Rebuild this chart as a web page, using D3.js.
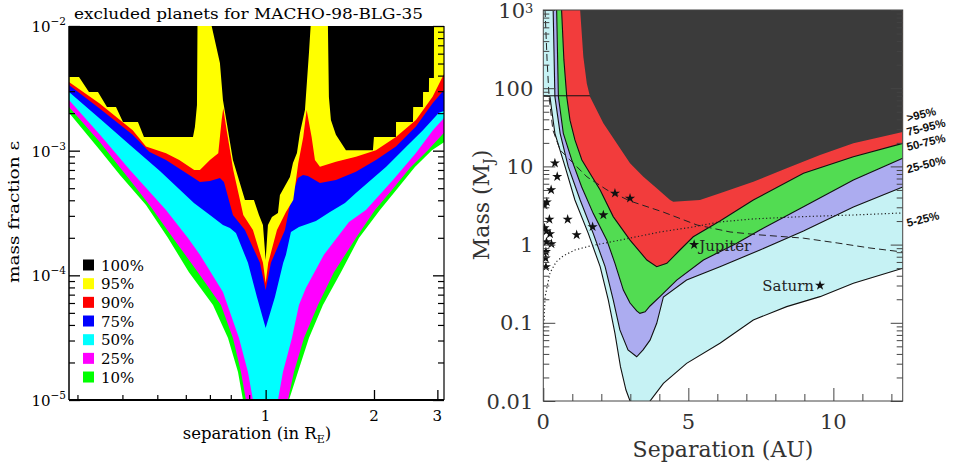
<!DOCTYPE html>
<html>
<head>
<meta charset="utf-8">
<script src="https://cdn.jsdelivr.net/npm/d3@7"></script>
<style>
  body { margin: 0; background: #fff; }
  svg { display: block; }
</style>
</head>
<body>
<svg id="fig" width="953" height="466"></svg>
<script>
// ===================== Left panel: excluded planets for MACHO-98-BLG-35 =====================
// Each list gives, for a separation u (in Einstein radii), the lowest mass fraction
// at which planets are excluded at the stated confidence.
const excl100 = [[0.2842,3.90e-3],[0.3030,3.90e-3],[0.3229,2.96e-3],[0.3421,2.96e-3],[0.3624,2.24e-3],[0.3839,2.24e-3],[0.4014,1.70e-3],[0.4418,1.70e-3],[0.4591,1.29e-3],[0.6282,1.29e-3],[0.6360,1.55e-3],[0.6445,2.32e-3],[0.6465,9.3e-3],[0.647,1.5e-2],[0.7047,1.5e-2],[0.7079,1.0e-2],[0.7464,5.05e-3],[0.7610,2.55e-3],[0.8112,8.42e-4],[0.8760,4.02e-4],[0.9279,4.02e-4],[0.9581,3.05e-4],[0.9829,2.53e-4],[1.0,1.33e-4],[1.0148,2.53e-4],[1.0411,2.94e-4],[1.0819,3.16e-4],[1.0957,4.41e-4],[1.1682,6.15e-4],[1.1908,7.96e-4],[1.2217,9.58e-4],[1.2454,1.39e-3],[1.2859,2.12e-3],[1.3192,6.07e-3],[1.3335,1.0e-2],[1.3345,1.5e-2],[1.4846,1.5e-2],[1.4894,1.0e-2],[1.4989,2.69e-3],[1.5182,1.76e-3],[1.5676,1.34e-3],[1.6714,1.01e-3],[1.9866,1.01e-3],[1.9993,1.29e-3],[2.3016,1.29e-3],[2.303,1.70e-3],[2.5663,1.70e-3],[2.570,2.24e-3],[2.7347,2.24e-3],[2.738,2.96e-3],[2.8418,2.96e-3],[2.845,3.83e-3],[2.9343,3.83e-3],[2.937,1.5e-2],[3.13,1.5e-2]];
const excl95 = [[0.2842,3.56e-3],[0.3450,2.40e-3],[0.4272,1.46e-3],[0.4651,1.08e-3],[0.5287,9.53e-4],[0.5754,8.42e-4],[0.6333,7.00e-4],[0.6567,7.00e-4],[0.7001,8.42e-4],[0.7385,9.53e-4],[0.7547,1.76e-3],[0.7625,2.19e-3],[0.7793,1.46e-3],[0.8128,7.00e-4],[0.8484,4.02e-4],[0.8666,3.05e-4],[0.9220,2.31e-4],[0.9829,1.26e-4],[1.0,8.68e-5],[1.0168,1.26e-4],[1.0750,2.31e-4],[1.1387,3.22e-4],[1.1930,4.02e-4],[1.2320,7.92e-4],[1.2720,1.29e-3],[1.2998,2.12e-3],[1.3419,1.29e-3],[1.3708,8.42e-4],[1.4153,7.43e-4],[1.5676,8.15e-4],[1.7817,8.94e-4],[2.0254,1.01e-3],[2.3016,1.29e-3],[2.6156,1.76e-3],[2.9099,2.71e-3],[3.1024,3.92e-3],[3.13,4.12e-3]];
const excl90 = [[0.2842,3.36e-3],[0.3450,2.19e-3],[0.4272,1.34e-3],[0.4749,9.81e-4],[0.5287,8.42e-4],[0.6333,6.00e-4],[0.6567,5.61e-4],[0.7001,5.71e-4],[0.7464,6.03e-4],[0.7660,5.61e-4],[0.8112,3.05e-4],[0.8760,2.31e-4],[0.9642,1.26e-4],[1.0,7.63e-5],[1.0344,1.26e-4],[1.1314,2.31e-4],[1.1607,3.34e-4],[1.1832,4.41e-4],[1.2296,6.03e-4],[1.2695,6.38e-4],[1.3108,6.26e-4],[1.4153,5.50e-4],[1.5676,5.82e-4],[1.7817,6.78e-4],[2.0254,8.42e-4],[2.3016,1.08e-3],[2.6156,1.56e-3],[2.9099,2.40e-3],[3.13,3.07e-3]];
const excl75 = [[0.2842,2.96e-3],[0.3465,1.80e-3],[0.4197,1.11e-3],[0.5084,6.87e-4],[0.6320,3.80e-4],[0.7001,3.05e-4],[0.7610,2.53e-4],[0.7957,2.40e-4],[0.8269,2.19e-4],[0.8378,1.99e-4],[0.8929,1.26e-4],[0.9458,6.70e-5],[1.0,3.78e-5],[1.0612,6.70e-5],[1.1190,1.26e-4],[1.1387,1.46e-4],[1.1757,2.23e-4],[1.2375,2.44e-4],[1.3795,2.73e-4],[1.5089,3.22e-4],[1.6610,3.80e-4],[1.7817,4.58e-4],[2.1589,7.40e-4],[2.4536,1.07e-3],[2.7347,1.46e-3],[3.0294,2.01e-3],[3.13,2.08e-3]];
const excl50 = [[0.2842,2.55e-3],[0.3465,1.34e-3],[0.4197,7.00e-4],[0.5287,3.34e-4],[0.6083,1.99e-4],[0.6567,1.46e-4],[0.7610,7.35e-5],[0.8431,3.14e-5],[0.8929,1.68e-5],[0.9220,1.0e-5],[0.9519,5.75e-6],[1.0681,5.75e-6],[1.0819,1.0e-5],[1.1170,1.68e-5],[1.1832,3.14e-5],[1.2375,5.78e-5],[1.2936,7.91e-5],[1.4517,1.46e-4],[1.7040,2.68e-4],[1.8994,3.34e-4],[2.2578,5.82e-4],[2.6156,9.58e-4],[2.9154,1.46e-3],[3.13,1.83e-3]];
const excl25 = [[0.2842,2.24e-3],[0.3465,1.17e-3],[0.4197,5.82e-4],[0.4801,3.53e-4],[0.5528,1.99e-4],[0.6483,1.06e-4],[0.7512,5.78e-5],[0.8112,3.14e-5],[0.8540,1.68e-5],[0.8816,1.0e-5],[0.9045,5.75e-6],[1.1241,5.75e-6],[1.1533,1.0e-5],[1.1985,1.68e-5],[1.2778,3.14e-5],[1.3975,5.78e-5],[1.5477,1.06e-4],[1.7817,1.99e-4],[2.0124,3.34e-4],[2.2432,4.83e-4],[2.5170,7.26e-4],[2.8236,1.01e-3],[3.13,1.39e-3]];
const excl10 = [[0.2842,2.01e-3],[0.3465,1.01e-3],[0.3937,6.38e-4],[0.4651,3.66e-4],[0.5355,1.99e-4],[0.6122,1.06e-4],[0.7140,5.78e-5],[0.7859,3.14e-5],[0.8378,1.68e-5],[0.8650,1.0e-5],[0.8872,5.75e-6],[1.1460,5.75e-6],[1.1607,1.0e-5],[1.2296,1.68e-5],[1.3192,3.14e-5],[1.4427,5.78e-5],[1.6189,1.06e-4],[1.8164,1.99e-4],[2.0777,3.34e-4],[2.3307,5.02e-4],[2.5988,7.40e-4],[2.8970,1.01e-3],[3.13,1.17e-3]];

const levelLabels = ["100%", "95%", "90%", "75%", "50%", "25%", "10%"];
const sepTickLabels = [1, 2, 3];
const epsTickExponents = [-2, -3, -4, -5];

// ===================== Right panel: mass vs separation =====================
// Lower edge (separation in AU, mass in Jupiter masses) of each exclusion zone.
const zone95 = [[1.27,1000],[1.38,253],[1.50,115],[1.61,78],[2.07,35.6],[2.53,19.7],[2.99,11.0],[3.45,7.4],[3.91,5.24],[4.37,3.72],[4.48,3.54],[5.40,3.72],[6.09,4.52],[7.24,6.37],[8.39,9.46],[9.54,14.0],[10.69,19.7],[12.39,27.5]];
const zone75 = [[0.63,1000],[0.71,230],[0.81,77],[0.92,39],[1.09,21.8],[1.33,12.1],[1.67,7.5],[1.96,5.0],[2.41,2.28],[2.99,1.14],[3.57,0.635],[3.91,0.522],[4.26,0.576],[4.71,0.853],[5.17,1.26],[6.09,2.00],[7.24,3.72],[8.97,8.16],[10.69,13.3],[12.39,19.7]];
const zone50 = [[0.46,1000],[0.52,78],[0.69,26.5],[0.98,12.1],[1.32,5.5],[1.72,2.51],[2.19,1.14],[2.47,0.576],[2.76,0.262],[2.99,0.179],[3.22,0.142],[3.33,0.132],[3.51,0.138],[3.68,0.164],[4.02,0.216],[4.60,0.352],[5.52,0.635],[6.67,1.04],[7.47,1.54],[8.97,3.05],[10.69,6.70],[12.39,12.7]];
const zone25 = [[0.34,1000],[0.40,78],[0.58,26.5],[0.86,9.92],[1.27,3.72],[1.72,1.39],[2.13,0.522],[2.41,0.196],[2.64,0.081],[2.92,0.045],[3.22,0.0368],[3.44,0.045],[3.68,0.060],[3.91,0.0986],[4.14,0.214],[4.94,0.352],[6.09,0.522],[7.47,0.853],[8.97,1.49],[10.69,3.03],[12.39,5.45]];
const zone5 = [[0,80],[0.23,78],[0.29,52.6],[0.40,26.5],[0.75,9.92],[1.09,3.72],[1.55,1.39],[1.96,0.522],[2.24,0.196],[2.47,0.0734],[2.66,0.0275],[2.85,0.0138],[2.99,0.01],[3.06,0.0066],[3.61,0.0066],[3.68,0.01],[4.14,0.0168],[4.94,0.0303],[6.09,0.0547],[7.24,0.1086],[8.39,0.161],[9.54,0.216],[10.69,0.320],[12.39,0.497]];
const zoneLabels = [">95%", "75-95%", "50-75%", "25-50%", "5-25%"];

const limitDashed = [[0.06,1000],[0.13,230],[0.20,77],[0.33,29.2],[0.58,16.2],[0.82,13.2],[1.51,7.32],[2.20,4.99],[2.99,3.61],[4.13,2.61],[5.30,1.78],[6.44,1.45],[7.47,1.33],[8.96,1.21],[10.13,1.05],[11.26,0.905],[12.39,0.804]];
const limitDotted = [[0.007,0.07],[0.06,0.214],[0.23,0.434],[0.44,0.599],[0.68,0.715],[1.09,0.853],[1.61,0.96],[2.64,1.14],[4.02,1.45],[5.16,1.68],[6.09,1.95],[7.23,2.13],[8.96,2.28],[10.68,2.39],[12.39,2.54]];
const stellarMassLimit = 80;   // M_J

const knownPlanets = [[0.40,11.0],[0.48,7.4],[0.27,5.0],[0.12,3.5],[0.04,3.2],[0.21,2.1],[0.84,2.1],[1.15,1.33],[1.70,1.69],[2.07,2.39],[2.47,4.53],[2.99,3.91],[0.11,1.49],[0.23,1.37],[0.11,1.08],[0.28,1.02],[0.09,0.81],[0.08,0.67],[0.09,0.52],[0.04,1.63]];
const solarPlanetNames = ["Jupiter", "Saturn"];
const solarPlanetSep = [5.20, 9.54];
const solarPlanetMass = [1.0, 0.30];

const massTicks = [0.01, 0.1, 1, 10, 100, 1000];
const massTickLabels = ["0.01", "0.1", "1", "10", "100", "10"];
const sepAUTicks = [0, 5, 10];

// ------------------------------------------------------------------
const svg = d3.select("#fig");
const defs = svg.append("defs");

function minorLogTicks(lo, hi) {
  const out = [];
  for (let k = Math.floor(Math.log10(lo)); k <= Math.ceil(Math.log10(hi)); k++) {
    for (let m = 1; m < 10; m++) {
      const v = m * Math.pow(10, k);
      if (v >= lo * 0.999 && v <= hi * 1.001) out.push(v);
    }
  }
  return out;
}

function tickAxis(g, axisFn, scale, values, len, color, width) {
  g.call(axisFn(scale).tickValues(values).tickSizeInner(-len).tickSizeOuter(0).tickFormat(""));
  g.select(".domain").remove();
  g.selectAll(".tick line").attr("stroke", color).attr("stroke-width", width);
}

// ===================== Left panel drawing =====================
const L = { left: 69, right: 444, top: 26, bottom: 400 };
const xL = d3.scaleLog().domain([0.2842, 3.13]).range([L.left, L.right]);
const yL = d3.scaleLog().domain([1e-5, 1e-2]).range([L.bottom, L.top]);

defs.append("clipPath").attr("id", "clipL").append("rect")
  .attr("x", L.left).attr("y", L.top).attr("width", L.right - L.left).attr("height", L.bottom - L.top);

const areaL = d3.area().x(d => xL(d[0])).y0(yL(1e-2)).y1(d => yL(d[1]));
const levelSeries = [excl10, excl25, excl50, excl75, excl90, excl95, excl100];
const levelColors = ["#00ff00", "#ff00ff", "#00ffff", "#0000ff", "#ff0000", "#ffff00", "#000000"];
const gL = svg.append("g").attr("clip-path", "url(#clipL)");
levelSeries.forEach((s, i) => {
  gL.append("path").attr("d", areaL(s)).attr("fill", levelColors[i]);
});

// frame and ticks
const axisColL = "#000";
svg.append("line").attr("x1", L.left).attr("x2", L.left).attr("y1", L.top).attr("y2", L.bottom).attr("stroke", axisColL).attr("stroke-width", 1.5);
svg.append("line").attr("x1", L.right).attr("x2", L.right).attr("y1", L.top).attr("y2", L.bottom).attr("stroke", axisColL).attr("stroke-width", 1.2);
svg.append("line").attr("x1", L.left).attr("x2", L.right).attr("y1", L.bottom).attr("y2", L.bottom).attr("stroke", axisColL).attr("stroke-width", 2);

const epsMajor = [1e-5, 1e-4, 1e-3, 1e-2];
const epsMinor = minorLogTicks(1e-5, 1e-2).filter(v => !epsMajor.some(m => Math.abs(m - v) / m < 1e-6));
const sepMinor = minorLogTicks(0.2842, 3.13).filter(v => ![1, 2, 3].some(m => Math.abs(m - v) < 1e-9) && v > 0.29);

tickAxis(svg.append("g").attr("transform", `translate(${L.left},0)`), d3.axisLeft, yL, epsMajor, 11, axisColL, 1.3);
tickAxis(svg.append("g").attr("transform", `translate(${L.left},0)`), d3.axisLeft, yL, epsMinor, 6, axisColL, 1.2);
tickAxis(svg.append("g").attr("transform", `translate(${L.right},0)`), d3.axisRight, yL, epsMajor, 11, axisColL, 1.3);
tickAxis(svg.append("g").attr("transform", `translate(${L.right},0)`), d3.axisRight, yL, epsMinor, 6, axisColL, 1.2);
tickAxis(svg.append("g").attr("transform", `translate(0,${L.bottom})`), d3.axisBottom, xL, sepTickLabels, 10, axisColL, 1.3);
tickAxis(svg.append("g").attr("transform", `translate(0,${L.bottom})`), d3.axisBottom, xL, sepMinor, 5, axisColL, 1.2);

const fontL = "DejaVu Serif, serif";
// y tick labels 10^-n
epsTickExponents.forEach(e => {
  const t = svg.append("text").attr("x", L.left - 3).attr("y", yL(Math.pow(10, e)) + 6)
    .attr("text-anchor", "end").attr("font-family", fontL).attr("font-size", 15).attr("fill", "#000");
  t.append("tspan").text("10");
  t.append("tspan").attr("dy", -7).attr("font-size", 10.5).text("\u2212" + Math.abs(e));
});
// x tick labels
sepTickLabels.forEach(v => {
  svg.append("text").attr("x", xL(v)).attr("y", 421).attr("text-anchor", "middle")
    .attr("font-family", fontL).attr("font-size", 15).text(v);
});
// axis titles
const xt = svg.append("text").attr("x", 257).attr("y", 439).attr("text-anchor", "middle")
  .attr("font-family", fontL).attr("font-size", 16.5);
xt.append("tspan").text("separation (in R");
xt.append("tspan").attr("dy", 4).attr("font-size", 11).text("E");
xt.append("tspan").attr("dy", -4).text(")");

svg.append("text").attr("transform", "translate(19,212) rotate(-90)").attr("text-anchor", "middle")
  .attr("font-family", fontL).attr("font-size", 15.5).attr("textLength", 142).attr("lengthAdjust", "spacingAndGlyphs")
  .text("mass fraction \u03b5");

svg.append("text").attr("x", 248.5).attr("y", 19).attr("text-anchor", "middle")
  .attr("font-family", fontL).attr("font-size", 14.5).attr("textLength", 349).attr("lengthAdjust", "spacingAndGlyphs")
  .text("excluded planets for MACHO-98-BLG-35");

// legend
const legendColors = ["#000000", "#ffff00", "#ff0000", "#0000ff", "#00ffff", "#ff00ff", "#00ff00"];
levelLabels.forEach((lab, i) => {
  const cy = 265 + i * 18.67;
  svg.append("rect").attr("x", 83).attr("y", cy - 5.5).attr("width", 11).attr("height", 11).attr("fill", legendColors[i]);
  svg.append("text").attr("x", 101).attr("y", cy + 5.5).attr("font-family", fontL).attr("font-size", 15).text(lab);
});

// ===================== Right panel drawing =====================
const R = { left: 543.3, right: 902.7, top: 10, bottom: 401 };
const xR = d3.scaleLinear().domain([0, 12.39]).range([R.left, R.right]);
const yR = d3.scaleLog().domain([0.01, 1000]).range([R.bottom, R.top]);

defs.append("clipPath").attr("id", "clipR").append("rect")
  .attr("x", R.left).attr("y", R.top).attr("width", R.right - R.left).attr("height", R.bottom - R.top);
const gR = svg.append("g").attr("clip-path", "url(#clipR)");

const areaR = d3.area().x(d => xR(d[0])).y0(yR(1000)).y1(d => yR(d[1]));
const lineR = d3.line().x(d => xR(d[0])).y(d => yR(d[1]));

gR.append("path").attr("d", areaR(zone5)).attr("fill", "#c6f2f4");
gR.append("path").attr("d", areaR(zone25)).attr("fill", "#acacf0");
gR.append("path").attr("d", areaR(zone50)).attr("fill", "#52dc52");
gR.append("path").attr("d", areaR(zone75)).attr("fill", "#f23c3c");
gR.append("line").attr("x1", xR(0)).attr("x2", xR(12.39))
  .attr("y1", yR(stellarMassLimit)).attr("y2", yR(stellarMassLimit)).attr("stroke", "#111").attr("stroke-width", 1);
gR.append("path").attr("d", areaR(zone95)).attr("fill", "#3b3b3b");

[zone5, zone25, zone50, zone75].forEach(z => {
  gR.append("path").attr("d", lineR(z)).attr("fill", "none").attr("stroke", "#111").attr("stroke-width", 1.1);
});
gR.append("path").attr("d", lineR(limitDashed)).attr("fill", "none").attr("stroke", "#222")
  .attr("stroke-width", 1).attr("stroke-dasharray", "7,4");
gR.append("path").attr("d", lineR(limitDotted)).attr("fill", "none").attr("stroke", "#222")
  .attr("stroke-width", 1.2).attr("stroke-dasharray", "1.2,2.4");

const star = d3.symbol(d3.symbolStar, 32);
gR.selectAll(".kp").data(knownPlanets).enter().append("path")
  .attr("transform", d => `translate(${xR(d[0])},${yR(d[1])})`).attr("d", star()).attr("fill", "#111");
solarPlanetNames.forEach((name, i) => {
  const px = xR(solarPlanetSep[i]), py = yR(solarPlanetMass[i]);
  gR.append("path").attr("transform", `translate(${px},${py})`).attr("d", star()).attr("fill", "#111");
  const t = svg.append("text").attr("font-family", "DejaVu Serif, serif").attr("font-size", 15).attr("fill", "#222");
  if (i === 0) t.attr("x", px + 5).attr("y", py + 6).text(name);
  else t.attr("x", px - 6).attr("y", py + 6).attr("text-anchor", "end").text(name);
});

// frame and ticks
const axisColR = "#444";
svg.append("rect").attr("x", R.left).attr("y", R.top).attr("width", R.right - R.left).attr("height", R.bottom - R.top)
  .attr("fill", "none").attr("stroke", axisColR).attr("stroke-width", 1);
const massMinor = minorLogTicks(0.01, 1000).filter(v => !massTicks.some(m => Math.abs(m - v) / m < 1e-6));
const auMinor = d3.range(1, 13).filter(v => v % 5 !== 0);
tickAxis(svg.append("g").attr("transform", `translate(${R.left},0)`), d3.axisLeft, yR, massTicks, 12, axisColR, 1);
tickAxis(svg.append("g").attr("transform", `translate(${R.left},0)`), d3.axisLeft, yR, massMinor, 6, axisColR, 1);
tickAxis(svg.append("g").attr("transform", `translate(${R.right},0)`), d3.axisRight, yR, massTicks, 12, axisColR, 1);
tickAxis(svg.append("g").attr("transform", `translate(${R.right},0)`), d3.axisRight, yR, massMinor, 6, axisColR, 1);
tickAxis(svg.append("g").attr("transform", `translate(0,${R.bottom})`), d3.axisBottom, xR, sepAUTicks, 13, axisColR, 1);
tickAxis(svg.append("g").attr("transform", `translate(0,${R.bottom})`), d3.axisBottom, xR, auMinor, 7, axisColR, 1);

const fontR = "DejaVu Serif, serif";
massTicks.forEach((v, i) => {
  const t = svg.append("text").attr("x", R.left - 10).attr("y", yR(v) + 7.5).attr("text-anchor", "end")
    .attr("font-family", fontR).attr("font-size", 21).attr("fill", "#333");
  t.append("tspan").text(massTickLabels[i]);
  if (v === 1000) t.append("tspan").attr("dy", -5).attr("font-size", 13).text("3");
});
sepAUTicks.forEach(v => {
  svg.append("text").attr("x", xR(v)).attr("y", 429).attr("text-anchor", "middle")
    .attr("font-family", fontR).attr("font-size", 21).attr("fill", "#333").text(v);
});
svg.append("text").attr("x", 723).attr("y", 457).attr("text-anchor", "middle")
  .attr("font-family", fontR).attr("font-size", 22).attr("fill", "#333").text("Separation (AU)");
const yt = svg.append("text").attr("transform", "translate(489,205) rotate(-90)").attr("text-anchor", "middle")
  .attr("font-family", fontR).attr("font-size", 22).attr("fill", "#333");
yt.append("tspan").text("Mass (M");
yt.append("tspan").attr("dy", 5).attr("font-size", 14).text("J");
yt.append("tspan").attr("dy", -5).text(")");

// zone labels along the right edge
const zoneLabelMass = [37, 24.5, 15.7, 8.2, 1.68];
zoneLabels.forEach((lab, i) => {
  svg.append("text").attr("transform", `translate(${R.right + 5},${yR(zoneLabelMass[i])}) rotate(-14)`)
    .attr("font-family", "Liberation Sans, Arial, sans-serif").attr("font-size", 11.5).attr("font-weight", "bold")
    .attr("fill", "#111").text(lab);
});
</script>
</body>
</html>
